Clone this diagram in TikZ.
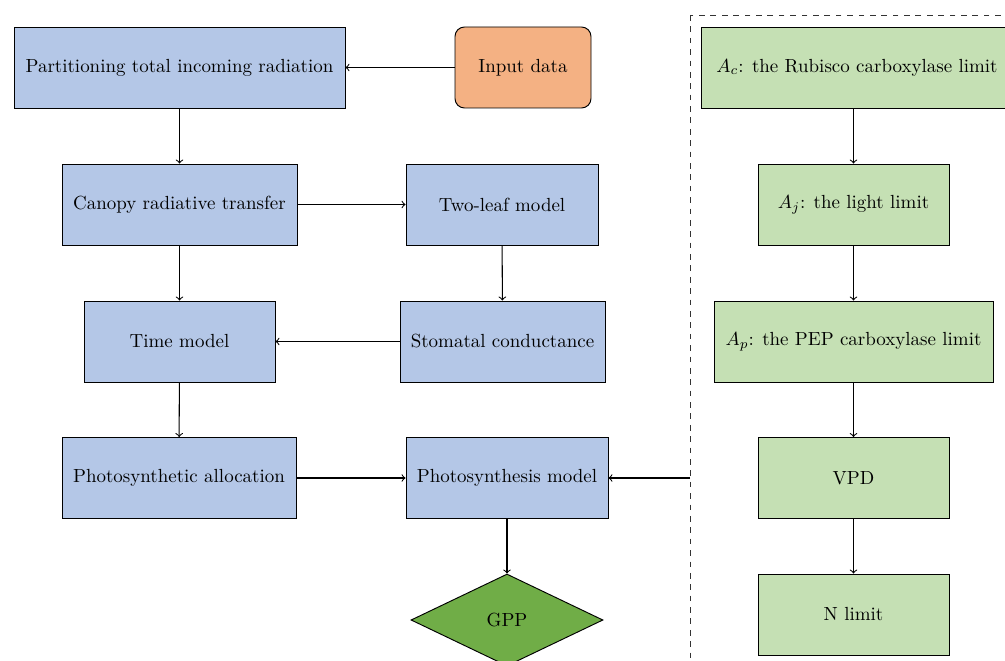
\documentclass[tikz,border=0pt]{standalone}
\usetikzlibrary{shapes.geometric}
\definecolor{bluebox}{HTML}{B4C7E7}
\definecolor{orangebox}{HTML}{F4B183}
\definecolor{greenbox}{HTML}{C5E0B4}
\definecolor{gppgreen}{HTML}{70AD47}
\begin{document}
\begin{tikzpicture}[x=0.527pt,y=-0.527pt,line width=0.5pt,
  bbox/.style={draw=black,fill=bluebox,rectangle,inner sep=0pt,minimum height={81*0.527pt}},
  gbox/.style={draw=black,fill=greenbox,rectangle,inner sep=0pt,minimum height={81*0.527pt}},
  obox/.style={draw=black,fill=orangebox,rectangle,rounded corners=5pt,inner sep=0pt,minimum height={81*0.527pt}},
  arr/.style={->,>=to,draw=black,line width=0.55pt}]
\clip (0,0) rectangle (1005,661);
\useasboundingbox (0,0) rectangle (1005,661);
\node[bbox,minimum width={331*0.527pt}] (part) at (179.5,67.5) {Partitioning total incoming radiation};
\node[obox,minimum width={136*0.527pt}] (input) at (523,67.5) {Input data};
\node[bbox,minimum width={235*0.527pt}] (canopy) at (179.5,204.5) {Canopy radiative transfer};
\node[bbox,minimum width={192*0.527pt}] (twoleaf) at (502,204.5) {Two-leaf model};
\node[bbox,minimum width={191*0.527pt}] (time) at (179.5,341.5) {Time model};
\node[bbox,minimum width={205*0.527pt}] (stom) at (502.5,341.5) {Stomatal conductance};
\node[bbox,minimum width={234*0.527pt}] (alloc) at (179,478) {Photosynthetic allocation};
\node[bbox,minimum width={202*0.527pt}] (psm) at (507,478) {Photosynthesis model};
\node[diamond,draw=black,fill=gppgreen,inner sep=0pt,minimum width={192*0.527pt},minimum height={92*0.527pt}] (gpp) at (507,620) {GPP};
\draw[dashed,line width=0.45pt,draw=black!80] (690,15) rectangle (1030,690);
\coordinate (dl) at (690,478);
\node[gbox,minimum width={312*0.527pt}] (ac) at (857,67.5) {$A_c$: the Rubisco carboxylase limit};
\node[gbox,minimum width={191*0.527pt}] (aj) at (853.5,204.5) {$A_j$: the light limit};
\node[gbox,minimum width={279*0.527pt}] (ap) at (853.5,341.5) {$A_p$: the PEP carboxylase limit};
\node[gbox,minimum width={191*0.527pt}] (vpd) at (853.5,478) {VPD};
\node[gbox,minimum width={191*0.527pt}] (nlim) at (853.5,614.5) {N limit};
\draw[arr] (input) -- (part);
\draw[arr] (part) -- (canopy);
\draw[arr] (canopy) -- (twoleaf);
\draw[arr] (canopy) -- (time);
\draw[arr] (twoleaf) -- (stom);
\draw[arr] (stom) -- (time);
\draw[arr] (time) -- (alloc);
\draw[arr] (alloc) -- (psm);
\draw[arr] (psm) -- (gpp);
\draw[arr] (dl) -- (psm);
\draw[arr] (ac.south -| aj) -- (aj);
\draw[arr] (aj) -- (ap);
\draw[arr] (ap) -- (vpd);
\draw[arr] (vpd) -- (nlim);
\end{tikzpicture}
\end{document}
